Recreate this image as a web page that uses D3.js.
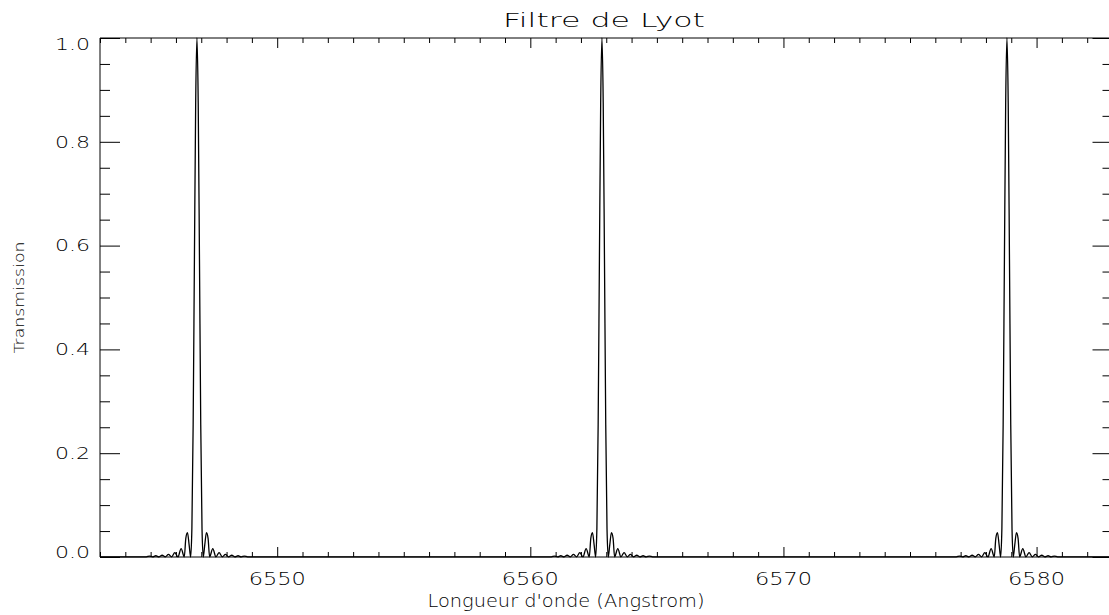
<!DOCTYPE html>
<html><head><meta charset="utf-8">
<script src="https://cdn.jsdelivr.net/npm/d3@7"></script>
<style>
html,body{margin:0;padding:0;background:#fff;}
svg{display:block;}
</style></head>
<body>
<svg id="c" width="1109" height="615"></svg>
<script>
// ---- data ----
const title = "Filtre de Lyot";
const xTitle = "Longueur d'onde (Angstrom)";
const yTitle = "Transmission";
const xDomain = [6543, 6583];
const yDomain = [0, 1];
const xMajorTicks = [6550, 6560, 6570, 6580];
const yMajorTicks = [0.0, 0.2, 0.4, 0.6, 0.8, 1.0];
const yTickLabels = ["0.0", "0.2", "0.4", "0.6", "0.8", "1.0"];
const peakCenters = [6546.83, 6562.83, 6578.83];
// transmission profile around each peak (offset in Angstrom, transmission)
const profileOffsets = [-2.0, -1.875, -1.75, -1.625, -1.5, -1.375, -1.25, -1.125, -1.0, -0.875, -0.75, -0.625, -0.5, -0.44, -0.375, -0.31, -0.25,
  -0.2, -0.15, -0.1, -0.05, 0, 0.05, 0.1, 0.15, 0.2,
  0.25, 0.31, 0.375, 0.44, 0.5, 0.625, 0.75, 0.875, 1.0, 1.125, 1.25, 1.375, 1.5, 1.625, 1.75, 1.875, 2.0];
const profileValues = [0.0003, 0.0018, 0.0003, 0.0024, 0.0003, 0.0034, 0.0003, 0.005, 0.0003, 0.0083, 0.0003, 0.016, 0.0003, 0.036, 0.047, 0.024, 0.0,
  0.055, 0.255, 0.573, 0.875, 1.0, 0.875, 0.573, 0.255, 0.055,
  0.0, 0.024, 0.047, 0.036, 0.0003, 0.016, 0.0003, 0.0083, 0.0003, 0.005, 0.0003, 0.0034, 0.0003, 0.0024, 0.0003, 0.0018, 0.0003];
const baselineValue = 0.0003;

// ---- layout ----
const pL = 100, pR = 1112.5, pT = 38, pB = 557;
const svg = d3.select("#c");
const x = d3.scaleLinear().domain(xDomain).range([pL, pR]);
const y = d3.scaleLinear().domain(yDomain).range([pB, pT]);

// build series
const pts = [[xDomain[0], baselineValue]];
peakCenters.forEach(c => {
  profileOffsets.forEach((o, i) => pts.push([c + o, profileValues[i]]));
});
pts.push([xDomain[1], baselineValue]);

const hershey = "'DejaVu Sans', 'Liberation Sans', sans-serif";

// frame lines
const g = svg.append("g").attr("stroke", "#000").attr("stroke-width", 1).attr("fill", "none");
g.append("line").attr("x1", pL).attr("x2", pR).attr("y1", pB).attr("y2", pB);
g.append("line").attr("x1", pL).attr("x2", pR).attr("y1", pT).attr("y2", pT);
g.append("line").attr("x1", pL).attr("x2", pL).attr("y1", pT).attr("y2", pB);
g.append("line").attr("x1", pR).attr("x2", pR).attr("y1", pT).attr("y2", pB);

// axes via d3 (ticks inward)
const xMinor = d3.range(Math.ceil(xDomain[0]), xDomain[1] + 0.001, 1).filter(v => !xMajorTicks.includes(v));
const yMinor = d3.range(0, 1.0001, 0.05).map(v => +v.toFixed(2)).filter(v => !yMajorTicks.some(t => Math.abs(t - v) < 1e-6));

function styleAxis(sel) {
  sel.select(".domain").remove();
  sel.selectAll(".tick line").attr("stroke", "#000").attr("stroke-width", 1);
}
// bottom
svg.append("g").attr("transform", `translate(0,${pB})`)
  .call(d3.axisTop(x).tickValues(xMinor).tickSize(5).tickFormat("")).call(styleAxis);
svg.append("g").attr("transform", `translate(0,${pB})`)
  .call(d3.axisTop(x).tickValues(xMajorTicks).tickSize(10).tickFormat("")).call(styleAxis);
// top
svg.append("g").attr("transform", `translate(0,${pT})`)
  .call(d3.axisBottom(x).tickValues(xMinor).tickSize(5).tickFormat("")).call(styleAxis);
svg.append("g").attr("transform", `translate(0,${pT})`)
  .call(d3.axisBottom(x).tickValues(xMajorTicks).tickSize(10).tickFormat("")).call(styleAxis);
// left
svg.append("g").attr("transform", `translate(${pL},0)`)
  .call(d3.axisRight(y).tickValues(yMinor).tickSize(10).tickFormat("")).call(styleAxis);
svg.append("g").attr("transform", `translate(${pL},0)`)
  .call(d3.axisRight(y).tickValues(yMajorTicks).tickSize(20).tickFormat("")).call(styleAxis);
// right
svg.append("g").attr("transform", `translate(${pR},0)`)
  .call(d3.axisLeft(y).tickValues(yMinor).tickSize(10).tickFormat("")).call(styleAxis);
svg.append("g").attr("transform", `translate(${pR},0)`)
  .call(d3.axisLeft(y).tickValues(yMajorTicks).tickSize(20).tickFormat("")).call(styleAxis);

// tick labels
svg.append("g").selectAll("text").data(xMajorTicks).join("text")
  .attr("x", d => x(d)).attr("y", 585)
  .attr("text-anchor", "middle").attr("fill", "#000")
  .attr("font-family", hershey).attr("font-size", 17).attr("font-weight", 200)
  .attr("textLength", 57).attr("lengthAdjust", "spacingAndGlyphs")
  .text(d => d);

svg.append("g").selectAll("text").data(yMajorTicks).join("text")
  .attr("x", 90).attr("y", d => Math.max(50, Math.min(558, y(d) + 5.8)))
  .attr("text-anchor", "end").attr("fill", "#000")
  .attr("font-family", hershey).attr("font-size", 16).attr("font-weight", 200)
  .attr("textLength", 35).attr("lengthAdjust", "spacingAndGlyphs")
  .text((d, i) => yTickLabels[i]);

// titles
svg.append("text").attr("x", 604).attr("y", 27).attr("text-anchor", "middle").attr("fill", "#000")
  .attr("font-family", hershey).attr("font-size", 20).attr("font-weight", 200)
  .attr("textLength", 202).attr("lengthAdjust", "spacingAndGlyphs")
  .text(title);
svg.append("text").attr("x", 566).attr("y", 607).attr("text-anchor", "middle").attr("fill", "#000")
  .attr("font-family", hershey).attr("font-size", 17).attr("font-weight", 200)
  .attr("textLength", 277).attr("lengthAdjust", "spacingAndGlyphs")
  .text(xTitle);
svg.append("text").attr("transform", `translate(24,${(pT + pB) / 2}) rotate(-90)`)
  .attr("text-anchor", "middle").attr("fill", "#000")
  .attr("font-family", hershey).attr("font-size", 14).attr("font-weight", 200)
  .attr("textLength", 112).attr("lengthAdjust", "spacingAndGlyphs")
  .text(yTitle);

// curve
const line = d3.line().x(d => x(d[0])).y(d => y(d[1])).curve(d3.curveMonotoneX);
svg.append("path").datum(pts).attr("d", line)
  .attr("fill", "none").attr("stroke", "#000").attr("stroke-width", 1.3);
</script>
</body></html>
